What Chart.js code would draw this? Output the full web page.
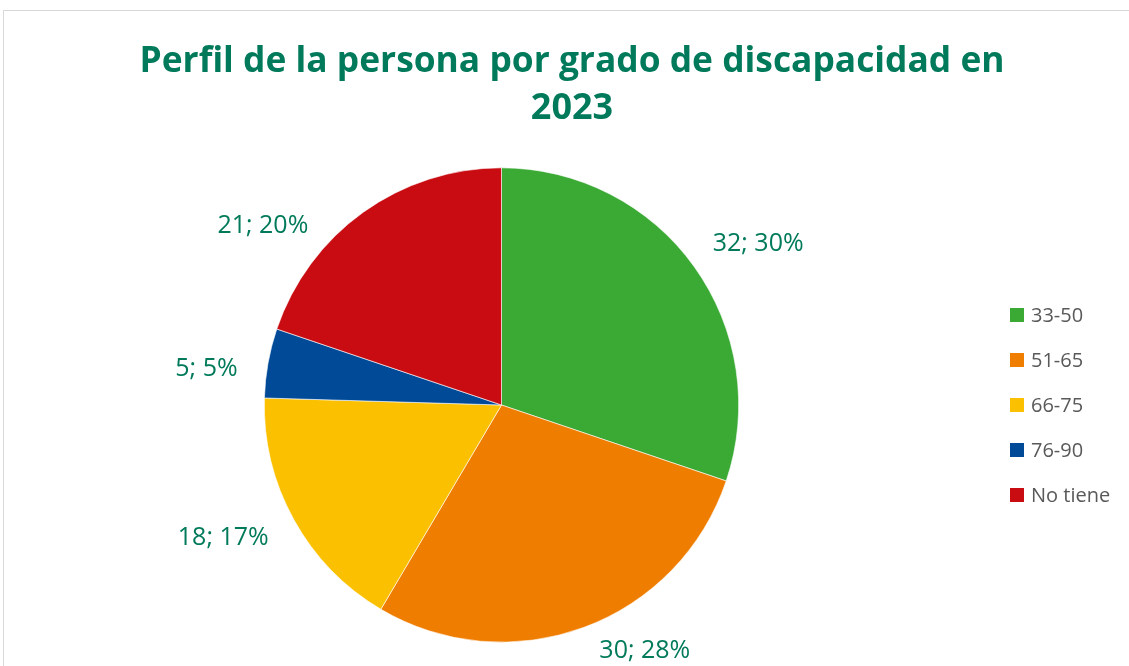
<!DOCTYPE html>
<html>
<head>
<meta charset="utf-8">
<script src="https://cdn.jsdelivr.net/npm/chart.js@4.4.1/dist/chart.umd.min.js"></script>
<style>
  body { margin: 0; background: #fff; }
  #wrap { width: 1129px; height: 666px; position: relative; }
</style>
</head>
<body>
<div id="wrap"><canvas id="mycanvas"></canvas></div>
<script>
// data
var categories = ["33-50", "51-65", "66-75", "76-90", "No tiene"];
var values = [32, 30, 18, 5, 21];
var titleLines = ["Perfil de la persona por grado de discapacidad en", "2023"];

var colors = ["#3BAA35", "#EF7D00", "#FBC100", "#004A98", "#C80C12"];
var green = "#007A5A";

// label nudges (degrees, px beyond the rim) to mimic excel best fit
var labelShift = [3.5, -9.9, 3.4, -3.3, -17.5];
var labelExtra = [66, 47, 71, 60, 61];

var total = values.reduce(function(a, b){ return a + b; }, 0);

function fitText(ctx, txt, maxW, x, y) {
  var w = ctx.measureText(txt).width;
  var s = w > maxW ? maxW / w : 1;
  ctx.save();
  ctx.translate(x, y);
  ctx.scale(s, 1);
  ctx.fillText(txt, 0, 0);
  ctx.restore();
}

var framePlugin = {
  id: "frame",
  beforeDraw: function(chart){
    var ctx = chart.ctx;
    ctx.save();
    ctx.fillStyle = "#fff";
    ctx.fillRect(0, 0, chart.width, chart.height);
    ctx.strokeStyle = "#d9d9d9";
    ctx.lineWidth = 1;
    ctx.strokeRect(3.5, 10.5, chart.width + 20, chart.height + 20);
    ctx.restore();
  }
};

var textPlugin = {
  id: "texts",
  afterDatasetsDraw: function(chart){
    var ctx = chart.ctx;
    ctx.save();
    // title
    ctx.fillStyle = green;
    ctx.font = "bold 36px 'Open Sans'";
    ctx.textAlign = "center";
    ctx.textBaseline = "alphabetic";
    fitText(ctx, titleLines[0], 865, 572, 72);
    fitText(ctx, titleLines[1], 865, 572, 119);

    // data labels
    ctx.font = "25px 'Open Sans'";
    ctx.textBaseline = "middle";
    var meta = chart.getDatasetMeta(0);
    meta.data.forEach(function(arc, i){
      var p = arc.getProps(["x", "y", "startAngle", "endAngle", "outerRadius"], true);
      var a = (p.startAngle + p.endAngle) / 2 + labelShift[i] * Math.PI / 180;
      var d = p.outerRadius + labelExtra[i];
      var pct = Math.round(values[i] / total * 100);
      fitText(ctx, values[i] + "; " + pct + "%", 96, p.x + Math.cos(a) * d, p.y + Math.sin(a) * d);
    });

    // legend
    ctx.font = "20px 'Open Sans'";
    ctx.textAlign = "left";
    for (var i = 0; i < categories.length; i++) {
      var y = 315 + i * 45;
      ctx.fillStyle = colors[i];
      ctx.fillRect(1010, y - 7, 14, 14);
      ctx.fillStyle = "#595959";
      fitText(ctx, categories[i], 84, 1031, y + 1);
    }
    ctx.restore();
  }
};

var chartdata = {
  labels: categories,
  datasets: [{
    data: values,
    backgroundColor: colors,
    borderColor: "#ffffff",
    borderWidth: 0.6,
    hoverOffset: 0
  }]
};

var ctx = document.getElementById("mycanvas");
var pieChart = new Chart(ctx, {
  type: "pie",
  data: chartdata,
  options: {
    responsive: true,
    maintainAspectRatio: false,
    animation: false,
    layout: { padding: { top: 167, bottom: 23, left: 264, right: 390 } },
    plugins: {
      legend: { display: false },
      title: { display: false },
      tooltip: { enabled: false }
    }
  },
  plugins: [framePlugin, textPlugin]
});
</script>
</body>
</html>
